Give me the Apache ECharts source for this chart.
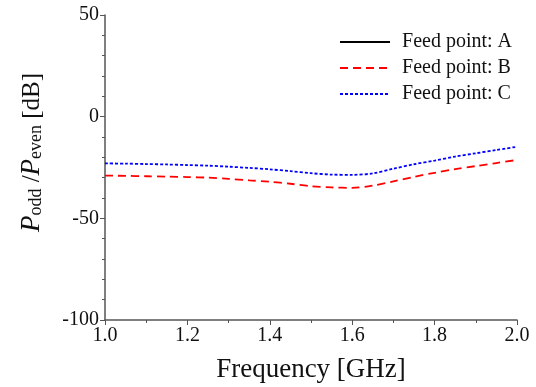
<!DOCTYPE html>
<html><head><meta charset="utf-8">
<script src="https://cdn.jsdelivr.net/npm/echarts@6/dist/echarts.min.js"></script>
<style>html,body{margin:0;padding:0;background:#fff}#c{width:536px;height:387px}</style>
</head><body><div id="c"></div>
<script>
const freq = [1.0,1.05,1.1,1.15,1.2,1.25,1.3,1.35,1.4,1.45,1.5,1.55,1.6,1.65,1.7,1.75,1.8,1.85,1.9,1.95,2.0];
const feedA = [];
const feedB = [-29.0,-29.1,-29.3,-29.5,-29.7,-30.0,-30.6,-31.3,-32.0,-33.0,-34.2,-34.8,-35.0,-33.9,-31.8,-29.6,-27.6,-25.8,-24.3,-22.8,-21.3];
const feedC = [-23.0,-23.1,-23.3,-23.5,-23.8,-24.1,-24.6,-25.2,-25.9,-26.8,-27.8,-28.5,-28.6,-27.9,-25.6,-23.4,-21.6,-19.6,-18.0,-16.4,-14.8];
const names = ['Feed point: A','Feed point: B','Feed point: C'];
const xTicks = [1.0,1.2,1.4,1.6,1.8,2.0];
const yTicks = [-100,-50,0,50];

const pair = (ys) => ys.map((v,i)=>[freq[i], v]);
const font = 'Liberation Serif';
const axisCol = '#555';
const chart = echarts.init(document.getElementById('c'), null, {renderer:'canvas'});
chart.setOption({
  animation:false,
  backgroundColor:'#fff',
  grid:{left:105,right:19,top:15,bottom:67,outerBoundsMode:'none',containLabel:false},
  legend:{
    orient:'vertical', right:19, top:27, itemWidth:50, itemHeight:10, itemGap:6,
    itemStyle:{opacity:0},
    textStyle:{fontFamily:font,fontSize:20,color:'#111',padding:[0,0,0,7]},
    data:names
  },
  xAxis:{
    type:'value', min:1.0, max:2.0, interval:0.2,
    name:'Frequency [GHz]', nameLocation:'middle', nameGap:36,
    nameTextStyle:{fontFamily:font,fontSize:27,color:'#111'},
    axisLine:{onZero:false,lineStyle:{color:axisCol,width:1.5}},
    axisTick:{length:5,lineStyle:{color:axisCol}},
    minorTick:{show:true,splitNumber:2,length:3,lineStyle:{color:axisCol}},
    splitLine:{show:false},
    axisLabel:{fontFamily:font,fontSize:20,color:'#111',margin:6,formatter:v=>v.toFixed(1)}
  },
  yAxis:{
    type:'value', min:-100, max:50, interval:50,
    name:'{i|P}{s|odd}{n| /}{i|P}{s|even}{n| [dB]}', nameLocation:'middle', nameGap:60, nameRotate:90,
    nameTextStyle:{fontFamily:font,fontSize:25,color:'#111',padding:[0,0,0,30],
      rich:{
        i:{fontFamily:font,fontStyle:'italic',fontSize:27,color:'#111',verticalAlign:'bottom',lineHeight:30},
        s:{fontFamily:font,fontSize:18,color:'#111',verticalAlign:'bottom',lineHeight:22},
        n:{fontFamily:font,fontSize:25,color:'#111',verticalAlign:'bottom',lineHeight:30}
      }},
    axisLine:{show:true,onZero:false,lineStyle:{color:axisCol,width:1.5}},
    axisTick:{show:true,length:5,lineStyle:{color:axisCol}},
    minorTick:{show:true,splitNumber:5,length:3,lineStyle:{color:axisCol}},
    splitLine:{show:false},
    axisLabel:{fontFamily:font,fontSize:20,color:'#111',margin:6}
  },
  series:[
    {name:names[0],type:'line',data:pair(feedA),symbol:'none',lineStyle:{color:'#000',width:1.8,type:'solid'},itemStyle:{color:'#000'}},
    {name:names[1],type:'line',data:pair(feedB),symbol:'none',smooth:0.3,lineStyle:{color:'#ff0000',width:1.8,type:[8,5]},itemStyle:{color:'#ff0000'}},
    {name:names[2],type:'line',data:pair(feedC),symbol:'none',smooth:0.3,lineStyle:{color:'#0000ff',width:1.8,type:[3,2]},itemStyle:{color:'#0000ff'}}
  ]
});
</script></body></html>
